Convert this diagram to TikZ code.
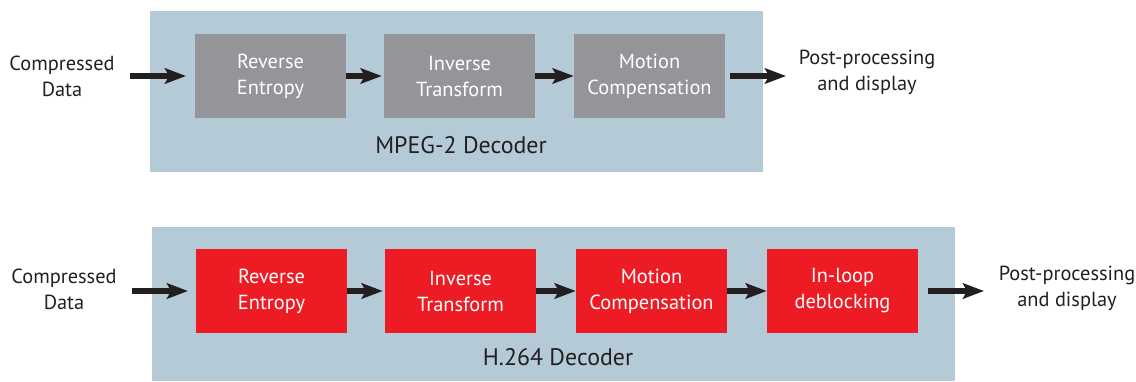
\documentclass[tikz,border=0pt]{standalone}
\usepackage{fontspec}
\setmainfont{PT Sans}
\usetikzlibrary{arrows.meta,positioning}
\definecolor{panelblue}{HTML}{B4CAD6}
\definecolor{boxgray}{HTML}{939598}
\definecolor{boxred}{HTML}{ED1C24}
\definecolor{inkdark}{HTML}{231F20}
\tikzset{
  stage/.style={minimum width=3.775cm,minimum height=2.1cm,inner sep=0pt,
    text=white,align=center,font=\fontsize{14.5}{18.5}\selectfont},
  oldstage/.style={stage,fill=boxgray},
  newstage/.style={stage,fill=boxred},
  lbl/.style={text=inkdark,align=center,font=\fontsize{14.5}{18.5}\selectfont},
  declbl/.style={lbl,font=\fontsize{17}{20}\selectfont},
  arr/.style={draw=inkdark,line width=3.6pt,
    -{Stealth[length=15pt,width=11pt,inset=3pt]}},
}
\begin{document}
\begin{tikzpicture}[x=0.025cm,y=-0.025cm]
\useasboundingbox (0,0) rectangle (1136,381);
% MPEG-2
\fill[panelblue] (150,11) rectangle (763,172);
\node[oldstage] (re1) at (270.5,76) {Reverse\\Entropy};
\node[oldstage] (it1) at (459.5,76) {Inverse\\Transform};
\node[oldstage] (mc1) at (649.5,76) {Motion\\Compensation};
\node[lbl] (cd1) at (62,76) {Compressed\\Data};
\node[lbl] (pp1) at (867,72) {Post-processing\\and display};
\node[declbl] (dec1) at (461,145) {MPEG-2 Decoder};
\coordinate (in1) at (130,76);
\coordinate (in1e) at (186,76);
\coordinate (out1s) at (730,76);
\coordinate (out1) at (786,76);
\draw[arr] (in1) -- (in1e);
\path[arr] (re1) edge[shorten >=0.05cm] (it1)
  (it1) edge (mc1);
\draw[arr] (out1s) -- (out1);
% H.264
\fill[panelblue] (152,227) rectangle (955,381);
\node[newstage] (re2) at (271.5,291) {Reverse\\Entropy};
\node[newstage] (it2) at (460.5,291) {Inverse\\Transform};
\node[newstage] (mc2) at (651.5,291) {Motion\\Compensation};
\node[newstage] (dl2) at (842.5,291) {In-loop\\deblocking};
\node[lbl] (cd2) at (64,289) {Compressed\\Data};
\node[lbl] (pp2) at (1067,288) {Post-processing\\and display};
\node[declbl] (dec2) at (558,357) {H.264 Decoder};
\coordinate (in2) at (132,291);
\coordinate (in2e) at (188,291);
\coordinate (out2s) at (928,291);
\coordinate (out2) at (984,291);
\draw[arr] (in2) -- (in2e);
\path[arr] (re2) edge[shorten >=0.05cm] (it2)
  (it2) edge (mc2)
  (mc2) edge (dl2);
\draw[arr] (out2s) -- (out2);
\end{tikzpicture}
\end{document}
